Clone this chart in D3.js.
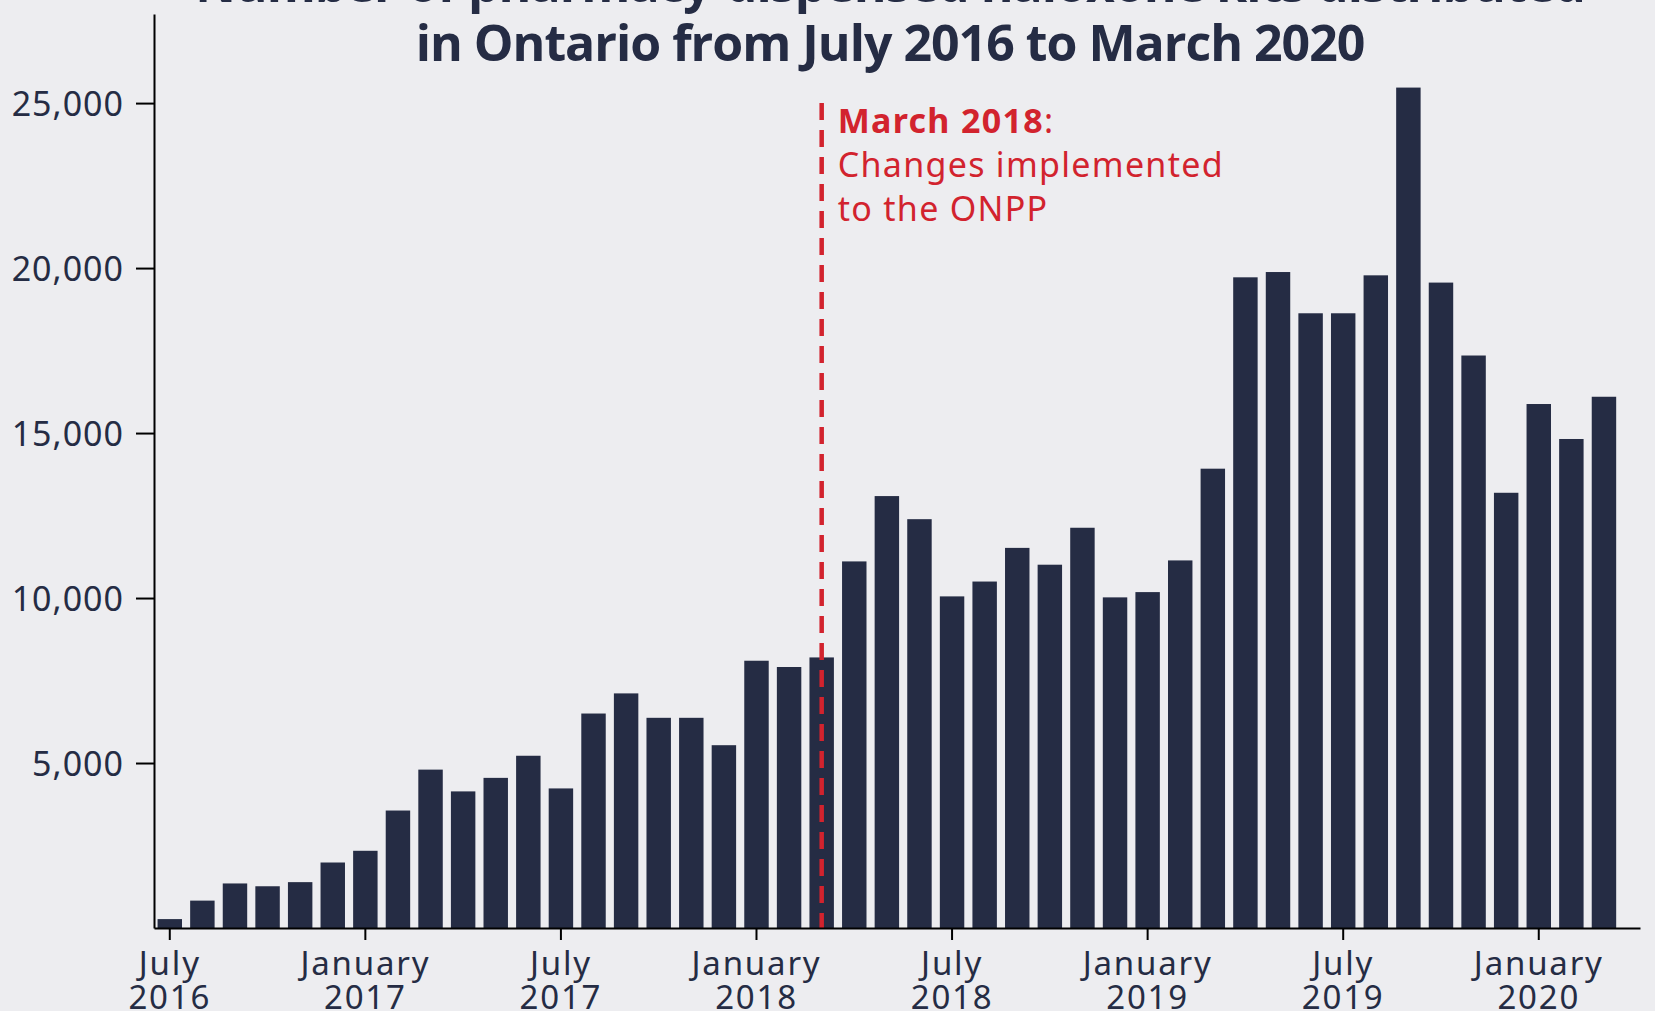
<!DOCTYPE html>
<head>
  <meta charset="utf-8">
  <script src="https://d3js.org/d3.v7.min.js"></script>
  <style>
    body { margin: 0; background: #ededf0; }
    svg { display: block; }
    .title { font-family: "Open Sans", sans-serif; font-weight: 700; font-size: 50px; letter-spacing: -1px; fill: #252c44; }
    .axis text { font-family: "Noto Sans", sans-serif; font-size: 34px; fill: #252c44; }
    .y-axis text { letter-spacing: 1px; }
    .x-axis text { font-size: 33px; letter-spacing: 1.8px; }
    .axis path, .axis line { stroke: #000; stroke-width: 2px; }
    .bar { fill: #252c44; }
    .note { font-family: "Noto Sans", sans-serif; font-size: 34px; fill: #d2232e; letter-spacing: 1.3px; }
  </style>
</head>

<body>
  <script>
    var width = 1655, height = 1011;

    // monthly kits, July 2016 .. March 2020
    var months = [
      "Jul 2016","Aug 2016","Sep 2016","Oct 2016","Nov 2016","Dec 2016",
      "Jan 2017","Feb 2017","Mar 2017","Apr 2017","May 2017","Jun 2017",
      "Jul 2017","Aug 2017","Sep 2017","Oct 2017","Nov 2017","Dec 2017",
      "Jan 2018","Feb 2018","Mar 2018","Apr 2018","May 2018","Jun 2018",
      "Jul 2018","Aug 2018","Sep 2018","Oct 2018","Nov 2018","Dec 2018",
      "Jan 2019","Feb 2019","Mar 2019","Apr 2019","May 2019","Jun 2019",
      "Jul 2019","Aug 2019","Sep 2019","Oct 2019","Nov 2019","Dec 2019",
      "Jan 2020","Feb 2020","Mar 2020"
    ];
    var kits = [
      270, 830, 1350, 1265, 1390, 1985,
      2340, 3560, 4800, 4140, 4550, 5220,
      4230, 6500, 7110, 6370, 6370, 5540,
      8100, 7910, 8200, 11110, 13090, 12390,
      10050, 10500, 11520, 11010, 12130, 10020,
      10180, 11140, 13920, 19720, 19880, 18630,
      18630, 19780, 25470, 19560, 17350, 13190,
      15880, 14820, 16100
    ];
    var tickMonths = ["Jul 2016","Jan 2017","Jul 2017","Jan 2018","Jul 2018","Jan 2019","Jul 2019","Jan 2020"];
    var tickLabels = [["July","2016"],["January","2017"],["July","2017"],["January","2018"],
                      ["July","2018"],["January","2019"],["July","2019"],["January","2020"]];
    var yTicks = [5000, 10000, 15000, 20000, 25000];
    var titleLines = ["Number of pharmacy-dispensed naloxone kits distributed",
                      "in Ontario from July 2016 to March 2020"];
    var changeMonth = "Mar 2018";
    var noteLines = ["Changes implemented", "to the ONPP"];

    var svg = d3.select("body").append("svg")
      .attr("width", width)
      .attr("height", height);

    svg.append("rect")
      .attr("width", width)
      .attr("height", height)
      .attr("fill", "#ededf0");

    var x = d3.scaleBand()
      .domain(months)
      .range([154, 1640])
      .paddingInner(0.25)
      .paddingOuter(0.42)
      .align(0.13);

    var y = d3.scaleLinear()
      .domain([0, 27700])
      .range([928, 14]);

    svg.append("g")
      .selectAll("rect")
      .data(kits)
      .enter().append("rect")
        .attr("class", "bar")
        .attr("x", function(d, i) { return x(months[i]); })
        .attr("width", x.bandwidth())
        .attr("y", function(d) { return y(d); })
        .attr("height", function(d) { return y(0) - y(d); });

    // March 2018 marker
    var cx = x(changeMonth) + x.bandwidth() / 2;
    svg.append("line")
      .attr("x1", cx).attr("x2", cx)
      .attr("y1", y(25000)).attr("y2", y(0))
      .attr("stroke", "#d2232e")
      .attr("stroke-width", 4.5)
      .attr("stroke-dasharray", "17,10");

    var note = svg.append("text")
      .attr("class", "note")
      .attr("x", cx + 16)
      .attr("y", y(25000) + 30);
    note.append("tspan").attr("font-weight", 700).text("March 2018");
    note.append("tspan").text(":");
    noteLines.forEach(function(t, i) {
      svg.append("text")
        .attr("class", "note")
        .attr("x", cx + 16)
        .attr("y", y(25000) + 30 + 44 * (i + 1))
        .text(t);
    });

    var yAxis = svg.append("g")
      .attr("class", "axis y-axis")
      .attr("transform", "translate(154,0)")
      .call(d3.axisLeft(y)
        .tickValues(yTicks)
        .tickFormat(d3.format(","))
        .tickSize(18)
        .tickSizeOuter(0)
        .tickPadding(12));
    yAxis.selectAll("text").attr("dy", "0.36em");

    var xAxis = svg.append("g")
      .attr("class", "axis x-axis")
      .attr("transform", "translate(0,928)")
      .call(d3.axisBottom(x)
        .tickValues(tickMonths)
        .tickSize(12)
        .tickSizeOuter(0));

    xAxis.selectAll(".tick text")
      .attr("y", 0)
      .attr("dy", null)
      .each(function(d) {
        var t = d3.select(this).text(null);
        var lab = tickLabels[tickMonths.indexOf(d)];
        t.append("tspan").attr("x", 0).attr("y", 47).text(lab[0]);
        t.append("tspan").attr("x", 0).attr("y", 81).text(lab[1]);
      });

    var title = svg.append("text")
      .attr("class", "title")
      .attr("text-anchor", "middle");
    titleLines.forEach(function(t, i) {
      title.append("tspan")
        .attr("x", 890)
        .attr("y", 2 + 59 * i)
        .text(t);
    });
  </script>
</body>
